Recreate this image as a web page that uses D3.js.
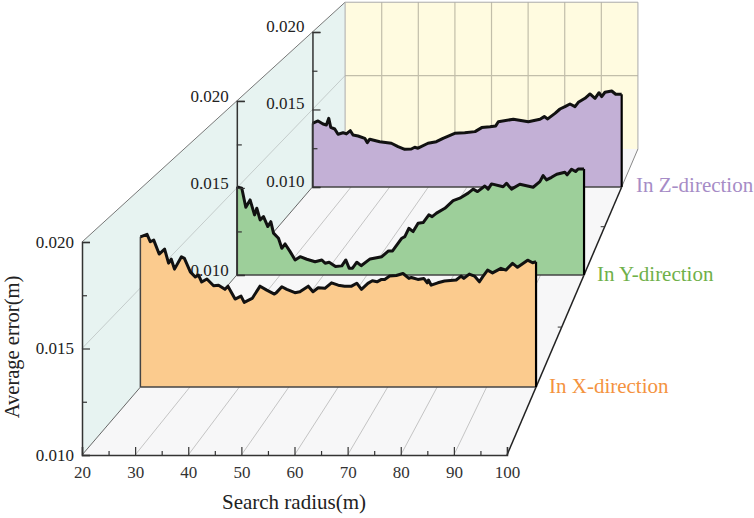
<!DOCTYPE html>
<html>
<head>
<meta charset="utf-8">
<script src="https://d3js.org/d3.v7.min.js"></script>
<style>
  body { margin: 0; background: #fff; }
  text { font-family: "Liberation Serif", serif; }
</style>
</head>
<body>
<svg id="drawing_region"></svg>
<script>
const xTicks = [20, 30, 40, 50, 60, 70, 80, 90, 100];
const xMinorTicks = [25, 35, 45, 55, 65, 75, 85, 95];
const yTicks = [0.010, 0.015, 0.020];
const yMinorTicks = [0.0125, 0.0175];

const radiusX = [20,21.35,22,22.7,23.8,24.9,25.7,26.25,26.9,28.3,28.9,30.1,31.1,31.75,32.4,33.45,34.8,35.8,37.1,37.7,39.15,40.35,41,42.6,44.2,45.55,47.1,47.4,48.6,49.6,51.25,52.25,53.95,54.9,55.95,57.3,58.65,60,61.3,62.7,63.75,64.7,66,66.9,67.85,68.75,69.4,70.4,71.75,73.1,74.3,74.8,76.1,77.3,78,78.25,78.8,80.15,81.5,83.85,84.85,85.4,86.5,87.55,88.55,89.2,90.2,91.2,92.9,93.9,95.25,96.25,98.3,99.3,100];
const errorX = [.01758,.0177,.01733,.01741,.01671,.01696,.01625,.01645,.01595,.01657,.01649,.01581,.01555,.01565,.0153,.01545,.01511,.01514,.01493,.01509,.01444,.01459,.01427,.01447,.01509,.01489,.01469,.01474,.01506,.01493,.01476,.01481,.01509,.01481,.01501,.01498,.01526,.01514,.01509,.01509,.01524,.01493,.01523,.01536,.01531,.01543,.01543,.0156,.01563,.01573,.01548,.01553,.01543,.01548,.01526,.0154,.01514,.01526,.01535,.0154,.0156,.01548,.0157,.0156,.01531,.01556,.0159,.01576,.01599,.0159,.01624,.01604,.0164,.01627,.01632];

const radiusY = [20,21.15,22.07,23.06,24.08,24.6,25.37,26.15,27.14,27.83,28.46,29.6,30.37,31.13,32.28,33.43,34.59,36.13,38.04,39.59,40.35,41.27,42.74,44.19,45.12,45.88,46.66,47.65,48.64,50.71,53.41,54.95,55.88,58.02,58.71,59.63,60.62,61.77,62.93,64.24,65,66.01,67.93,69.84,71.38,73.3,74.45,75.46,77.14,77.9,78.69,81.36,82.14,83.29,85.21,88.27,89.82,90.58,91.36,92.51,93.71,95.58,96.1,97.12,98.04,98.65,100];
const errorY = [.01506,.01498,.01389,.01431,.01345,.01383,.01316,.01335,.01278,.01306,.0124,.01211,.01153,.01178,.01134,.01086,.01105,.0109,.01076,.01086,.01067,.01073,.01048,.01052,.01086,.01039,.01039,.01073,.01053,.01092,.01105,.01138,.01138,.01211,.0122,.01268,.01249,.01297,.01301,.01345,.01335,.01355,.01383,.01427,.01441,.0147,.01493,.01479,.01511,.01493,.01523,.01507,.01527,.01493,.01521,.01504,.01536,.01571,.01546,.01561,.01579,.0159,.01575,.01607,.01594,.01609,.01609];

const radiusZ = [20,21.45,22.74,23.6,24.22,24.73,25.77,26.62,27.92,28.77,29.8,30.5,31.8,33.53,34.2,34.82,37.41,40.41,42.14,43.88,45.58,46.46,47.31,49.9,52.05,53.78,56.81,59.39,62.06,63.79,65.94,67.41,68.09,71.97,75.85,78.87,79.98,80.86,82.75,84.04,85.33,86.63,87.92,88.78,90.51,91.8,93.1,94.13,94.83,95.68,97.42,98.45,100];
const errorZ = [.0141,.01426,.01406,.014,.01443,.01385,.01374,.0134,.0135,.01342,.01363,.01335,.01329,.01314,.01286,.01308,.01292,.01282,.0126,.01243,.01245,.01256,.0125,.01282,.01292,.01314,.01346,.0135,.01357,.01383,.01389,.01394,.01421,.01437,.01421,.01437,.01454,.01439,.01475,.01503,.01518,.01535,.01518,.01546,.01572,.016,.01572,.01608,.01583,.01611,.01619,.01598,.01598];

const seriesNames = ["In Z-direction", "In Y-direction", "In X-direction"];

// perspective set-up
const width = 754, height = 518;
const vanish = {x: 928, y: -529};
const depth = {front: 1, x: 0.931, y: 0.817, z: 0.7276, back: 0.689};

const xscale = d3.scaleLinear().domain([20, 100]).range([82, 507]);
const yscale = d3.scaleLinear().domain([0.010, 0.020]).range([455, 242]);

// scales for a plane standing further back
const planeX = s => d3.scaleLinear().domain(xscale.domain())
    .range(xscale.range().map(v => vanish.x + (v - vanish.x) * s));
const planeY = s => d3.scaleLinear().domain(yscale.domain())
    .range(yscale.range().map(v => vanish.y + (v - vanish.y) * s));
const pt = (r, e, s) => [planeX(s)(r), planeY(s)(e)];

const svg = d3.select("#drawing_region").attr("width", width).attr("height", height);
const poly = d3.line();

function face(points, fill) {
    svg.append("path").attr("d", poly(points) + "Z").attr("fill", fill);
}
function seg(a, b, color, w) {
    svg.append("line")
        .attr("x1", a[0]).attr("y1", a[1]).attr("x2", b[0]).attr("y2", b[1])
        .attr("stroke", color).attr("stroke-width", w);
}

const F = depth.front, B = depth.back;

// walls
face([pt(20, .01, F), pt(100, .01, F), pt(100, .01, B), pt(20, .01, B)], "#f7f7f8");
face([pt(20, .01, F), pt(20, .02, F), pt(20, .02, B), pt(20, .01, B)], "#e7f3f1");
face([pt(20, .01, B), pt(20, .02, B), pt(100, .02, B), pt(100, .01, B)], "#fffbe0");

// grid
xTicks.slice(1, -1).forEach(t => {
    seg(pt(t, .01, F), pt(t, .01, B), "#c4c4c4", 1);
    seg(pt(t, .01, B), pt(t, .02, B), "#c2beaa", 1.2);
});
seg(pt(20, .015, F), pt(20, .015, B), "#c4cccb", 1);
seg(pt(20, .015, B), pt(100, .015, B), "#c2beaa", 1.2);

// wall edges
seg(pt(20, .02, F), pt(20, .02, B), "#777", 1);
seg(pt(20, .01, F), pt(20, .01, B), "#666", 1);
seg(pt(20, .02, B), pt(100, .02, B), "#aaa", 1);
seg(pt(20, .02, B), pt(20, .01, B), "#aaa", 1);
seg(pt(100, .02, B), pt(100, .01, B), "#aaa", 1);
seg(pt(100, .01, B), pt(100, .01, depth.z), "#888", 1);
seg(pt(100, .01, depth.z), pt(100, .01, F), "#222", 1.5);

// small ticks on the depth edge
[0.87, 0.768].forEach(s => {
    const p = pt(100, .01, s);
    seg(p, [p[0] - 4, p[1]], "#333", 1);
});

function yAxisOn(s, labelDy) {
    const y = planeY(s);
    const x0 = planeX(s)(20);
    svg.append("g").attr("transform", `translate(${x0},0)`)
        .call(d3.axisRight(y).tickValues(yMinorTicks).tickSize(5).tickFormat(""))
        .call(g => g.select(".domain").remove())
        .selectAll("line").attr("stroke", "#333").attr("stroke-width", 1.2);
    const g = svg.append("g").attr("transform", `translate(${x0},0)`)
        .call(d3.axisRight(y).tickValues(yTicks).tickSize(8).tickFormat(d3.format(".3f")));
    g.select(".domain").attr("stroke", "#333").attr("stroke-width", 1.5);
    g.selectAll("line").attr("stroke", "#333").attr("stroke-width", 1.2);
    g.selectAll("text")
        .attr("x", -8).attr("dy", labelDy).attr("text-anchor", "end")
        .attr("font-size", 17).attr("fill", "#222");
}

function series(rs, es, s, fill, labelColor, label, lx, ly) {
    const x = planeX(s), y = planeY(s);
    const pts = rs.map((r, i) => ({r: r, e: es[i]}));
    svg.append("path")
        .attr("d", d3.area().x(d => x(d.r)).y0(y(.01)).y1(d => y(d.e))(pts))
        .attr("fill", fill);
    seg([x(20), y(.01)], [x(100), y(.01)], "#444", 1.5);
    seg([x(20), y(.01)], [x(20), y(es[0])], "#444", 1.5);
    seg([x(100), y(.01)], [x(100), y(es[es.length - 1])], "#000", 2.2);
    svg.append("path")
        .attr("d", d3.line().x(d => x(d.r)).y(d => y(d.e))(pts))
        .attr("fill", "none").attr("stroke", "#111").attr("stroke-width", 3)
        .attr("stroke-linejoin", "round");
    svg.append("text").attr("x", lx).attr("y", ly)
        .attr("font-size", 21).attr("fill", labelColor).text(label);
}

series(radiusZ, errorZ, depth.z, "#c3b0d6", "#a68cc6", seriesNames[0], 636, 192);
yAxisOn(depth.z, "-0.05em");
series(radiusY, errorY, depth.y, "#9dcf9a", "#6fb04a", seriesNames[1], 597, 281);
yAxisOn(depth.y, "0.05em");
series(radiusX, errorX, depth.x, "#fbcb8e", "#f4933f", seriesNames[2], 549, 393);

// front axes
yAxisOn(F, "0.32em");
const xg0 = svg.append("g").attr("transform", `translate(0,${yscale(.01)})`)
    .call(d3.axisTop(xscale).tickValues(xMinorTicks).tickSize(4).tickFormat(""));
xg0.select(".domain").remove();
xg0.selectAll("line").attr("stroke", "#333").attr("stroke-width", 1.2);
const xg = svg.append("g").attr("transform", `translate(0,${yscale(.01)})`)
    .call(d3.axisTop(xscale).tickValues(xTicks).tickSize(8));
xg.select(".domain").attr("stroke", "#333").attr("stroke-width", 1.5);
xg.selectAll("line").attr("stroke", "#333").attr("stroke-width", 1.2);
xg.selectAll("text").attr("y", 23).attr("dy", 0).attr("font-size", 17).attr("fill", "#333");

// axis titles
svg.append("text").attr("x", 294).attr("y", 509).attr("text-anchor", "middle")
    .attr("font-size", 21).attr("fill", "#222").text("Search radius(m)");
svg.append("text").attr("transform", "translate(19,347) rotate(-90)").attr("text-anchor", "middle")
    .attr("font-size", 20.5).attr("fill", "#222").text("Average error(m)");
</script>
</body>
</html>
